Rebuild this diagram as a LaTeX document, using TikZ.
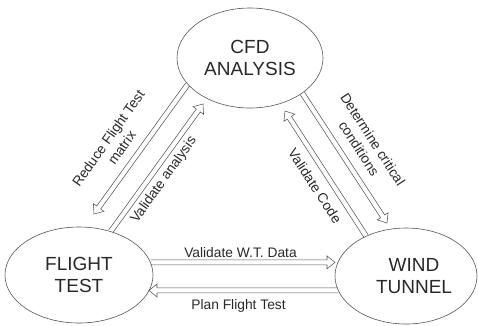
\documentclass[tikz,border=0pt]{standalone}
\usepackage{fontspec}
\setmainfont{Liberation Sans}
\usepackage{tikz}
\usetikzlibrary{calc,shapes.geometric}
\definecolor{InkGray}{RGB}{40,40,40}
\definecolor{EdgeGray}{RGB}{85,85,85}
\tikzset{
  stage/.style={ellipse, draw=EdgeGray, line width=0.6pt, inner sep=0pt,
    align=center, text=InkGray, font=\fontsize{19}{22}\selectfont},
  lbl/.style={align=center, text=InkGray, inner sep=0pt,
    font=\fontsize{13.8}{16.5}\selectfont},
  hollow/.style={draw=EdgeGray, line width=0.55pt, line join=miter, to path={
    ($(\tikztostart)!2.5pt!90:(\tikztotarget)$)
    -- ($($(\tikztotarget)!8pt!(\tikztostart)$)!2.5pt!90:(\tikztotarget)$)
    -- ($($(\tikztotarget)!8pt!(\tikztostart)$)!6.5pt!90:(\tikztotarget)$)
    -- (\tikztotarget)
    -- ($($(\tikztotarget)!8pt!(\tikztostart)$)!6.5pt!-90:(\tikztotarget)$)
    -- ($($(\tikztotarget)!8pt!(\tikztostart)$)!2.5pt!-90:(\tikztotarget)$)
    -- ($(\tikztostart)!2.5pt!-90:(\tikztotarget)$)}}
}

\begin{document}
\begin{tikzpicture}[x=1pt, y=-1pt]
  \path[use as bounding box] (0,0) rectangle (478,325);
  \node[stage, minimum width=146pt, minimum height=100pt] (cfd) at (250,58) {CFD\\ANALYSIS};
  \node[stage, minimum width=148pt, minimum height=96pt] (ft) at (79,275) {FLIGHT\\TEST};
  \node[stage, minimum width=142pt, minimum height=96pt] (wt) at (406,276)
    {\hspace*{16pt}WIND\\\hspace*{16pt}TUNNEL};
  \coordinate (rfh) at (94,214);
  \coordinate (vah) at (203,104);
  \coordinate (dch) at (387,223);
  \coordinate (vch) at (285,111);
  \coordinate (wtdh) at (ft.10.4 -| 335,0);
  \coordinate (pfh) at (wt.-168.3 -| 149,0);
  \draw[hollow] (cfd.-157.9) to (rfh);
  \draw[hollow] (ft.54.2) to (vah);
  \draw[hollow] (cfd.-34.6) to (dch);
  \draw[hollow] (wt.135.7) to (vch);
  \draw[hollow] (ft.10.4) to (wtdh);
  \draw[hollow] (wt.-168.3) to (pfh);
  \node[lbl, rotate=54.7] (rftl) at (115,143) {Reduce Flight Test\\matrix};
  \node[lbl, rotate=54.5] (val) at (164,180) {Validate analysis};
  \node[lbl, rotate=-57] (dcl) at (366,144) {Determine critical\\conditions};
  \node[lbl, rotate=-57] (vcl) at (315,186) {Validate Code};
  \node[lbl] (wtdl) at (240.5,253) {Validate W.T. Data};
  \node[lbl] (pftl) at (238.5,306) {Plan Flight Test};
\end{tikzpicture}
\end{document}
